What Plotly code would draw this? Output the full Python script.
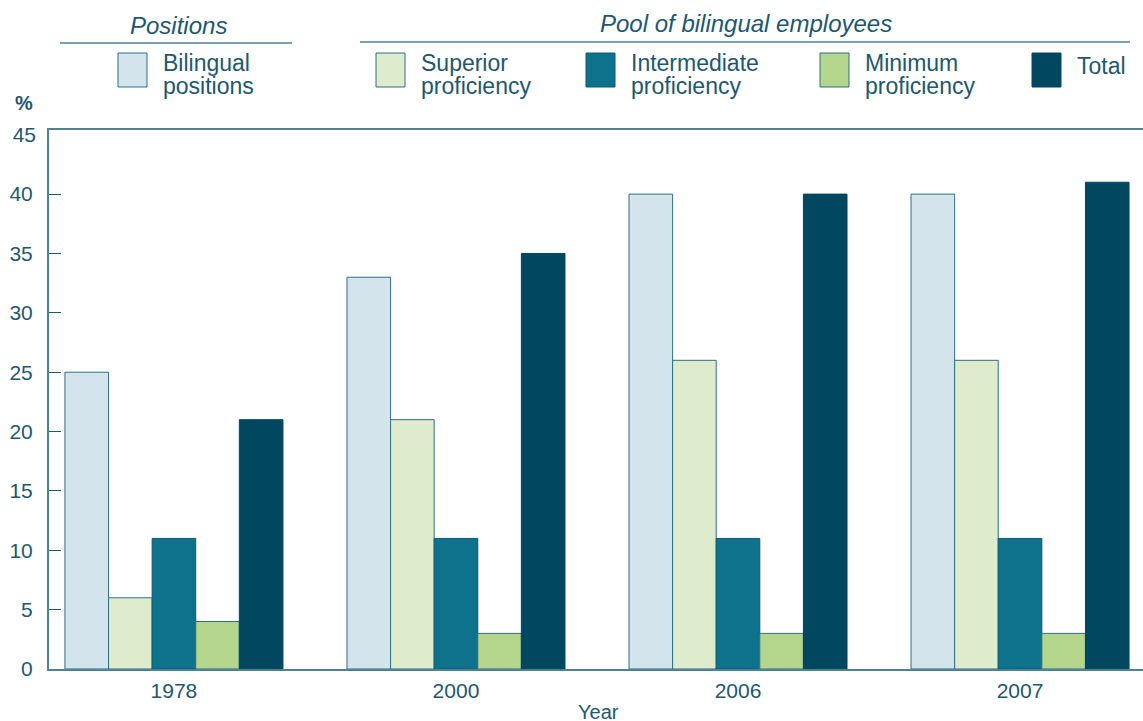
import plotly.graph_objects as go

# Data
years = ["1978", "2000", "2006", "2007"]
bilingual_positions = [25, 33, 40, 40]
superior_proficiency = [6, 21, 26, 26]
intermediate_proficiency = [11, 11, 11, 11]
minimum_proficiency = [4, 3, 3, 3]
total_pool = [21, 35, 40, 41]
y_ticks = [0, 5, 10, 15, 20, 25, 30, 35, 40, 45]

series_names = ["Bilingual positions", "Superior proficiency", "Intermediate proficiency",
                "Minimum proficiency", "Total"]
series_values = [bilingual_positions, superior_proficiency, intermediate_proficiency,
                 minimum_proficiency, total_pool]
fill_colors = ["#d3e4ec", "#deebcd", "#0e728c", "#b4d68c", "#00475f"]
edge_colors = ["#2f6f84", "#2f6f84", "#0c5a70", "#2f6f84", "#00475f"]

TEXT = "#1d5870"
AXIS = "#4d8294"
FONT = "Liberation Sans"

W, H = 1143, 721
L, R, T, B = 49, 0, 130, 52
Y_MAX = 45.4


def px(x):
    return (x - L) / (W - L - R)


def py(y):
    return (H - B - y) / (H - T - B)


fig = go.Figure()
for name, vals, fc, ec in zip(series_names, series_values, fill_colors, edge_colors):
    fig.add_trace(go.Bar(
        x=years, y=vals, name=name,
        marker=dict(color=fc, line=dict(color=ec, width=1)),
        showlegend=False,
    ))

shapes = []
annotations = []


def label(x, y, text, size, anchor="left"):
    annotations.append(dict(x=px(x), y=py(y), xref="paper", yref="paper", text=text,
                            showarrow=False, font=dict(size=size, color=TEXT, family=FONT),
                            xanchor=anchor, yanchor="middle"))


# Group headings with rules beneath
label(178, 26, "<i>Positions</i>", 24, "center")
label(746, 24, "<i>Pool of bilingual employees</i>", 24, "center")
shapes.append(dict(type="line", xref="paper", yref="paper", x0=px(60), x1=px(292),
                   y0=py(43), y1=py(43), line=dict(color=AXIS, width=1.5)))
shapes.append(dict(type="line", xref="paper", yref="paper", x0=px(360), x1=px(1130),
                   y0=py(42), y1=py(42), line=dict(color=AXIS, width=1.5)))

# Legend swatches and labels
legend_items = [
    (118, ["Bilingual", "positions"]),
    (376, ["Superior", "proficiency"]),
    (586, ["Intermediate", "proficiency"]),
    (820, ["Minimum", "proficiency"]),
    (1032, ["Total"]),
]
for (sx, lines), fc, ec in zip(legend_items, fill_colors, edge_colors):
    shapes.append(dict(type="rect", xref="paper", yref="paper",
                       x0=px(sx), x1=px(sx + 29), y0=py(87), y1=py(53),
                       fillcolor=fc, line=dict(color=ec, width=1)))
    if len(lines) == 1:
        label(sx + 43, 66, lines[0], 23)
    else:
        label(sx + 43, 63, lines[0], 23)
        label(sx + 43, 86, lines[1], 23)

# Axis unit and title
label(24, 103, "<b>%</b>", 20, "center")
label(598, 712, "Year", 20, "center")

fig.update_layout(
    width=W, height=H,
    margin=dict(l=L, r=R, t=T, b=B, pad=0),
    paper_bgcolor="white", plot_bgcolor="white",
    barmode="group", bargap=0.227, bargroupgap=0,
    font=dict(family=FONT, color=TEXT, size=21),
    shapes=shapes, annotations=annotations,
    xaxis=dict(
        type="category", range=[-0.443, 3.436],
        showline=True, linecolor=AXIS, linewidth=2, mirror=True,
        ticks="", showgrid=False,
        tickfont=dict(size=21, color=TEXT, family=FONT),
        ticklabelstandoff=2,
    ),
    yaxis=dict(
        range=[0, Y_MAX], tickvals=y_ticks[:-1],
        showline=True, linecolor=AXIS, linewidth=2,
        ticks="inside", ticklen=12, tickcolor=TEXT, tickwidth=1,
        showgrid=False, zeroline=False,
        tickfont=dict(size=21, color=TEXT, family=FONT),
        ticklabelstandoff=10,
    ),
    # Top label sits against the frame without a tick mark
    yaxis2=dict(
        overlaying="y", side="left", range=[0, Y_MAX], tickvals=y_ticks[-1:],
        showline=False, ticks="", showgrid=False, zeroline=False,
        tickfont=dict(size=21, color=TEXT, family=FONT),
        ticklabelstandoff=12,
    ),
)
# Invisible trace to anchor the secondary axis
fig.add_trace(go.Scatter(x=years[:1], y=[0], yaxis="y2", mode="markers",
                         marker=dict(opacity=0), showlegend=False, hoverinfo="skip"))

fig.write_html("out.html")
